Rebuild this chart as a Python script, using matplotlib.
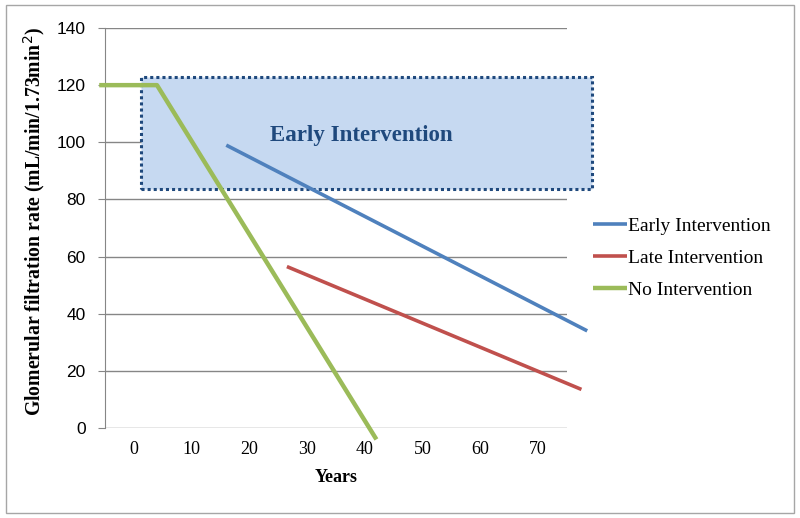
import matplotlib
matplotlib.use('Agg')
import matplotlib.pyplot as plt
from matplotlib.patches import Rectangle

# line data (years, GFR)
early_years = [16, 78.5]
early_gfr = [99, 34]
late_years = [26.5, 77.5]
late_gfr = [56.5, 13.5]
none_years = [-6, 4, 42]
none_gfr = [120, 120, -4]

series_labels = ['Early Intervention', 'Late Intervention', 'No Intervention']
box_label = 'Early Intervention'
# shaded band: x from / to, gfr from / to
box_x = [1.2, 79.4]
box_gfr = [83.7, 122.9]

x_ticks = [0, 10, 20, 30, 40, 50, 60, 70]
y_ticks = [0, 20, 40, 60, 80, 100, 120, 140]

blue = '#4F81BD'
red = '#C0504D'
green = '#9BBB59'
navy = '#1F497D'
serif = 'Liberation Serif'
sans = 'Liberation Sans'

fig = plt.figure(figsize=(8, 5.18), dpi=100)
ax = fig.add_axes([105 / 800, 1 - 428 / 518, (567 - 105) / 800, 400 / 518])

# outer frame of the chart area
fig.patches.append(Rectangle((6 / 800, 5 / 518), 788 / 800, 508 / 518,
                             transform=fig.transFigure, fill=False,
                             edgecolor='#A6A6A6', linewidth=1))

ax.add_patch(Rectangle((box_x[0], box_gfr[0]), box_x[1] - box_x[0],
                       box_gfr[1] - box_gfr[0], facecolor='#C6D9F1',
                       edgecolor=navy, linewidth=2.2, linestyle=(0, (1, 1)),
                       clip_on=False, zorder=1))
ax.text((box_x[0] + box_x[1]) / 2 - 1, 102.5, box_label, color=navy,
        fontsize=16.5, fontweight='bold', family=serif,
        ha='center', va='center', zorder=2)

ax.plot(early_years, early_gfr, color=blue, lw=2.6, clip_on=False,
        label=series_labels[0], zorder=3, solid_capstyle='butt')
ax.plot(late_years, late_gfr, color=red, lw=2.6, clip_on=False,
        label=series_labels[1], zorder=3, solid_capstyle='butt')
ax.plot(none_years, none_gfr, color=green, lw=3.2, clip_on=False,
        label=series_labels[2], zorder=3, solid_capstyle='butt')

ax.set_xlim(-5, 75)
ax.set_ylim(0, 140)
ax.set_xticks(x_ticks)
ax.set_yticks(y_ticks)
ax.set_xticklabels([str(v) for v in x_ticks], family=serif, fontsize=13)
ax.set_yticklabels([str(v) for v in y_ticks], family=sans, fontsize=12.5)
ax.tick_params(axis='x', length=0, pad=9)
ax.tick_params(axis='y', length=5, color='#868686', pad=9)
ax.grid(axis='y', color='#868686', linewidth=1)
ax.set_axisbelow(True)
for s in ['top', 'right', 'bottom']:
    ax.spines[s].set_visible(False)
ax.spines['left'].set_color('#868686')

ax.set_xlabel('Years', family=serif, fontsize=13, fontweight='bold', labelpad=8)
ax.set_ylabel('Glomerular filtration rate (mL/min/1.73min$^{2}$)', family=serif,
              fontsize=14.2, fontweight='bold')
ax.yaxis.set_label_coords(-0.125, 0.5175)

ax.legend(loc='center left', bbox_to_anchor=(593 / 800, 1 - 258 / 518),
          bbox_transform=fig.transFigure, frameon=False, borderpad=0,
          borderaxespad=0, handlelength=1.75, handletextpad=0.05,
          labelspacing=0.75, prop={'family': serif, 'size': 14})

fig.savefig('out.png', dpi=100)
